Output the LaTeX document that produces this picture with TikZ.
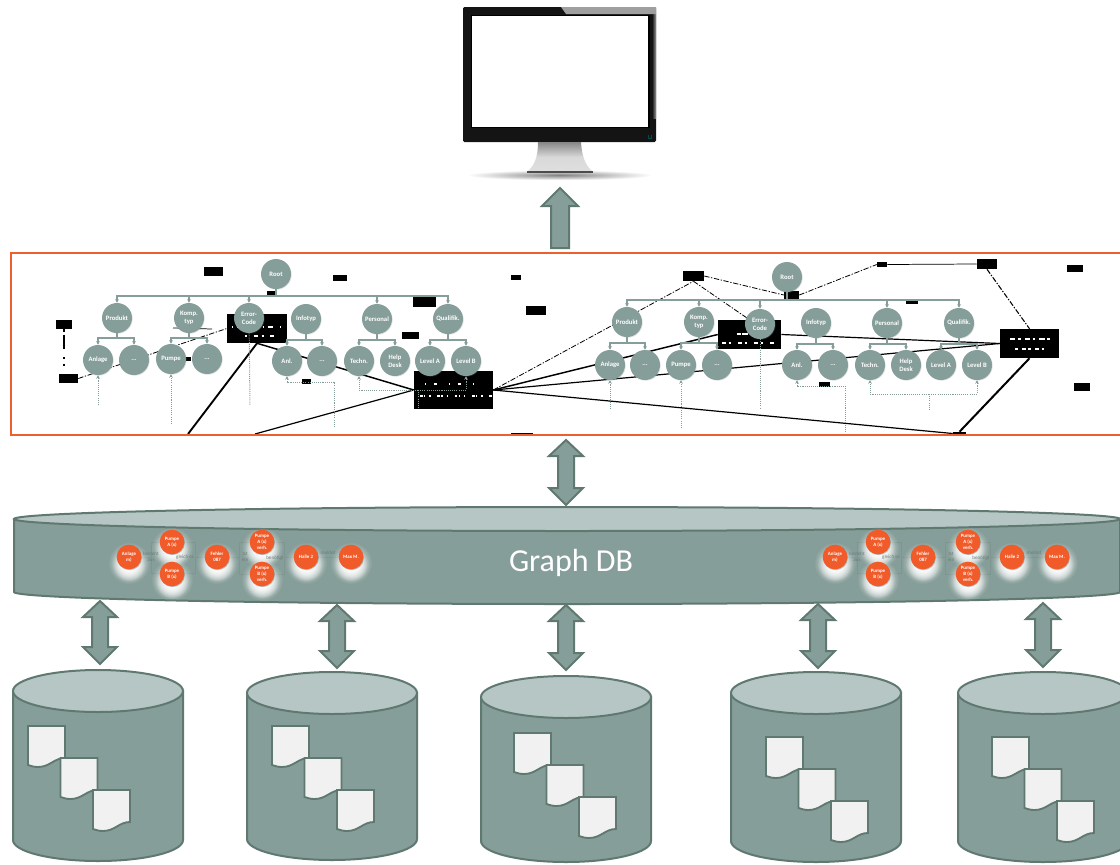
\documentclass[tikz,border=0pt]{standalone}
\usepackage{fontspec}
\setmainfont{Carlito}
\usetikzlibrary{arrows.meta,backgrounds,fadings,shadows}
\definecolor{sage}{HTML}{869E99}
\definecolor{sagelt}{HTML}{B6C6C4}
\definecolor{sagedk}{HTML}{5F7870}
\definecolor{orangefr}{HTML}{EE5F30}
\definecolor{orangeno}{HTML}{F15A29}
\definecolor{paperw}{HTML}{F1F1F1}
\pgfdeclarelayer{boxlayer}
\pgfsetlayers{background,boxlayer,main}
\tikzfading[name=glowfade, inner color=transparent!0, outer color=transparent!100]
\tikzfading[name=floorfade, inner color=transparent!15, outer color=transparent!100]
\tikzset{
  tn/.style={circle,fill=sage,text=white,inner sep=0pt,minimum size=22.5pt,align=center,
    font=\fontsize{5}{5.8}\selectfont\bfseries,
    drop shadow={shadow xshift=0.5pt,shadow yshift=-0.5pt,opacity=.25,fill=gray}},
  bbk/.style={rectangle,fill=black,draw=none,inner sep=0pt},
  treeln/.style={draw=sage,line width=0.8pt},
  treearr/.style={treeln,-{Stealth[length=2.6pt,width=2.8pt]}},
  dotln/.style={draw=sage,line width=0.75pt,dash pattern=on 0.8pt off 0.8pt},
  dotarr/.style={dotln,-{Stealth[length=2.6pt,width=2.8pt]}},
  blkthin/.style={draw=black,line width=0.55pt},
  blkdash/.style={draw=black,line width=0.6pt,dash pattern=on 4pt off 1.2pt on 1pt off 1.2pt},
  blkthick/.style={draw=black,line width=1.1pt},
  garble/.style={draw=white,line width=0.8pt},
  onode/.style={circle,fill=orangeno,text=white,inner sep=0pt,minimum size=18.5pt,align=center,
    font=\fontsize{3.7}{4.4}\selectfont\bfseries,
    drop shadow={shadow xshift=0.4pt,shadow yshift=-0.6pt,opacity=.35,fill=black!70}},
  faintln/.style={draw=sage!94!black,line width=0.3pt},
  fainttx/.style={text=sage!80!black,inner sep=0pt,align=center,font=\fontsize{3.8}{4.2}\selectfont},
  blockarr/.style={fill=sage,draw=sagedk,line width=1.5pt,line join=miter},
  drum/.style={fill=sage,draw=sagedk,line width=1.5pt},
  drumtop/.style={fill=sagelt,draw=sagedk,line width=1.5pt},
  docst/.style={fill=paperw,draw=sagedk,line width=1.4pt},
}
\newcommand{\bbx}[5]{%
  \pgfmathsetmacro\bbw{(#4-#2)*0.75}\pgfmathsetmacro\bbh{(#5-#3)*0.75}%
  \node[bbk,minimum width=\bbw pt,minimum height=\bbh pt] (#1) at ({(#2+#4)/2},{(#3+#5)/2}) {};}
% double block arrow: centre x, top tip, bottom tip
\newcommand{\dblarr}[3]{%
  \draw[blockarr] (#1,#2) -- (#1+17,#2+16) -- (#1+8,#2+16) -- (#1+8,#3-17) -- (#1+17,#3-17)
   -- (#1,#3) -- (#1-17,#3-17) -- (#1-8,#3-17) -- (#1-8,#2+16) -- (#1-17,#2+16) -- cycle;}
% document sheet
\newcommand{\docsheet}[2]{%
  \draw[docst,shift={(#1,#2)}] (0,0) -- (37,0) -- (37,32) .. controls (26,32) and (22,41) .. (10,41)
    .. controls (6,41) and (3,40) .. (0,39) -- cycle;}
% cylinder: centre x, top y, bottom y, doc x, doc y
\newcommand{\drumdocs}[5]{%
  \draw[drum] (#1-85,#2+21) -- (#1-85,#3-21) arc (180:0:85 and 21) -- (#1+85,#2+21) -- cycle;
  \draw[drumtop] (#1,#2+21) ellipse (85 and 21);
  \docsheet{#4}{#5}\docsheet{#4+32.5}{#5+32}\docsheet{#4+65}{#5+64}}
% group of orange nodes
\newcommand{\glowat}[2]{\fill[white,path fading=glowfade] (#1,#2+6) circle (21);
  \fill[white,path fading=glowfade] (#1,#2+7) circle (18);
  \fill[white,path fading=glowfade] (#1,#2+8) circle (16);}
\newcommand{\ogroup}[2]{%
  \draw[faintln] (#2+141,557) -- (#2+151,557) (#2+151,542) rectangle (#2+195,573) (#2+195,557) -- (#2+205,557);
  \draw[faintln] (#2+229,557) -- (#2+239,557) (#2+239,542) rectangle (#2+284,574) (#2+284,557) -- (#2+294,557);
  \draw[faintln] (#2+318,557) -- (#2+339,557);
  \glowat{#2+129}{557}\glowat{#2+172}{542}\glowat{#2+172}{574}\glowat{#2+217}{557}
  \glowat{#2+262}{542}\glowat{#2+262}{574}\glowat{#2+306}{557}\glowat{#2+351}{557}
  \node[fainttx] (#1t1) at (#2+151,557) {besteht\\aus};
  \node[fainttx] (#1t2) at (#2+185,557) {gleich es};
  \node[fainttx] (#1t3) at (#2+245,557) {Ist\\ein};
  \node[fainttx] (#1t4) at (#2+275,558) {benötigt};
  \node[fainttx] (#1t5) at (#2+328,553) {meldet};
  \node[onode] (#1a) at (#2+129,557) {Anlage\\m)};
  \node[onode] (#1b) at (#2+172,542) {Pumpe\\A (x)};
  \node[onode] (#1c) at (#2+172,574) {Pumpe\\B (x)};
  \node[onode] (#1d) at (#2+217,557) {Fehler\\087};
  \node[onode] (#1e) at (#2+262,542) {Pumpe\\A (x)\\verh.};
  \node[onode] (#1f) at (#2+262,574) {Pumpe\\B (x)\\verh.};
  \node[onode] (#1g) at (#2+306,557) {Halle 2};
  \node[onode] (#1h) at (#2+351,557) {Max M.};}
\begin{document}
\begin{tikzpicture}[x=0.75pt,y=-0.75pt]
\useasboundingbox (0,0) rectangle (1120,864);

% ---------- monitor ----------
\fill[black!92,rounded corners=1pt] (463,7) rectangle (656,142);
\shade[left color=black!92,right color=gray!80] (652,14) rectangle (656,118);
\fill[gray!75] (561,7) -- (656,7) -- (656,14) -- (566,14) -- cycle;
\fill[black] (471,15) rectangle (650,128);
\fill[white] (472,16) rectangle (648,127);
\draw[teal!60!black,line width=0.6pt] (648.5,135) -- (648.5,138) -- (651.5,138) -- (651.5,135);
\shade[top color=gray!95,bottom color=gray!25,middle color=gray!30]
  (538,142) .. controls (538,158) and (534,166) .. (527,172) -- (593,172) .. controls (586,166) and (582,158) .. (581,142) -- cycle;
\fill[gray!85!black,path fading=floorfade] (467,170) -- (652,170) -- (652,180) -- (467,180) -- cycle;
\draw[draw=gray!60!black,line width=0.8pt] (527,172) -- (593,172);

% ---------- arrows ----------
\draw[blockarr] (560,188) -- (578,206) -- (569,206) -- (569,248) -- (551,248) -- (551,206) -- (542,206) -- cycle;
\dblarr{566}{440}{505}

% ---------- black boxes of the overlay ----------
\begin{pgfonlayer}{boxlayer}
\bbx{bA}{204}{267}{223}{276}
\bbx{bB}{333}{275}{347}{281}
\bbx{bC}{511}{275}{521}{280}
\bbx{bD}{413}{297}{436}{307}
\bbx{bE}{526}{306}{546}{315}
\bbx{bF}{267}{291}{275}{295}
\bbx{bG}{56}{320}{72}{329}
\bbx{bH}{59}{374}{78}{383}
\bbx{bI}{227}{314}{287}{343}
\bbx{bJ}{402}{332}{419}{339}
\bbx{bK}{185}{357}{191}{361}
\bbx{bL}{302}{379}{311}{384}
\bbx{bM}{414}{371}{493}{409}
\bbx{bN}{511}{433}{533}{435}
\bbx{rA}{683}{271}{704}{281}
\bbx{rB}{784}{291}{799}{299}
\bbx{rC}{877}{262}{887}{267}
\bbx{rD}{977}{259}{997}{269}
\bbx{rE}{1067}{265}{1083}{272}
\bbx{rF}{906}{299}{918}{304}
\bbx{rG}{718}{320}{781}{349}
\bbx{rH}{1000}{329}{1059}{358}
\bbx{rI}{1074}{383}{1090}{391}
\bbx{rJ}{819}{382}{830}{387}
\bbx{rK}{953}{432}{966}{435}
% unreadable white fragments in the big boxes
\draw[garble,dash pattern=on 1pt off 3pt on 4pt off 5pt on 1pt off 9pt] (232,327) -- (285,327);
\draw[garble,dash pattern=on 1.5pt off 5pt on 3pt off 3pt] (245,336) -- (275,336);
\draw[garble,dash pattern=on 1pt off 6pt on 2pt off 9pt] (425,384) -- (480,384);
\draw[garble,dash pattern=on 2pt off 1pt on 1pt off 3pt on 1pt off 5pt] (420,396) -- (492,396);
\draw[garble,line width=1.2pt,dash pattern=on 3pt off 1pt on 4pt off 2pt] (737,334) -- (770,334);
\draw[garble,dash pattern=on 3pt off 2pt on 2pt off 5pt] (722,343) -- (776,343);
\draw[garble,dash pattern=on 4pt off 2pt on 2pt off 3pt] (1010,339) -- (1050,339);
\draw[garble,dash pattern=on 2pt off 3pt on 3pt off 2pt] (1015,349) -- (1045,349);
\end{pgfonlayer}

% ---------- left tree ----------
\node[tn] (lroot) at (276,274) {Root};
\node[tn] (lprod) at (117,318) {Produkt};
\node[tn] (lkomp) at (189,318) {Komp.\\typ};
\node[tn] (lerr)  at (249,318) {Error-\\Code};
\node[tn] (linfo) at (306,319) {Infotyp};
\node[tn] (lpers) at (377,319) {Personal};
\node[tn] (lqual) at (448,319) {Qualifik.};
\node[tn] (lanl)  at (98,360) {Anlage};
\node[tn] (ld1)   at (134,360) {...};
\node[tn] (lpum)  at (171,359) {Pumpe};
\node[tn] (ld2)   at (207,359) {...};
\node[tn] (laus)  at (287,361) {Anl.};
\node[tn] (ld3)   at (322,361) {...};
\node[tn] (ltec)  at (359,361) {Techn.};
\node[tn] (lhelp) at (395,361) {Help\\Desk};
\node[tn] (llva)  at (430,361) {Level A};
\node[tn] (llvb)  at (466,361) {Level B};
\coordinate (lbus) at (276,296);
\draw[treeln] (lroot) -- (lbus);
\foreach \t in {lprod,lkomp,lerr,lpers,lqual} \draw[treearr] (lbus) -| (\t);
\draw[treeln] (lprod) -- (117,338);\draw[treearr] (117,338) -| (lanl);\draw[treearr] (117,338) -| (ld1);
\draw[treeln] (lkomp) -- (189,338);\draw[treearr] (189,338) -| (lpum);\draw[treearr] (189,338) -| (ld2);
\draw[treeln] (linfo) -- (306,340);\draw[treearr] (306,340) -| (laus);\draw[treearr] (306,340) -| (ld3);
\draw[treeln] (lpers) -- (377,340);\draw[treearr] (377,340) -| (ltec);\draw[treearr] (377,340) -| (lhelp);
\draw[treeln] (lqual) -- (448,340);\draw[treearr] (448,340) -| (llva);\draw[treearr] (448,340) -| (llvb);
% dotted feeders, left
\coordinate (lfa) at (98,405);\coordinate (lfb) at (171,424);\coordinate (lfc) at (250,405);
\coordinate (lfd) at (334,427);\coordinate (lfe) at (418,390);\coordinate (lff) at (418,409);
\draw[dotarr] (lfa) -- (lanl);
\draw[dotarr] (lfb) -- (lpum);
\draw[dotln] (lerr) -- (lfc);
\draw[dotarr] (lfd) |- (287,382) -- (laus);
\draw[dotarr] (lfe) -| (ltec);
\draw[dotarr] (lfe) -| (llvb);
\draw[dotln] (lfe) -- (lff);

% ---------- right tree ----------
\node[tn] (rroot) at (787,277) {Root};
\node[tn] (rprod) at (627,322) {Produkt};
\node[tn] (rkomp) at (699,322) {Komp.\\typ};
\node[tn] (rerr)  at (760,324) {Error-\\Code};
\node[tn] (rinfo) at (816,323) {Infotyp};
\node[tn] (rpers) at (887,323) {Personal};
\node[tn] (rqual) at (959,323) {Qualifik.};
\node[tn] (ranl)  at (610,365) {Anlage};
\node[tn] (rd1)   at (645,365) {...};
\node[tn] (rpum)  at (681,365) {Pumpe};
\node[tn] (rd2)   at (717,365) {...};
\node[tn] (raus)  at (797,365) {Anl.};
\node[tn] (rd3)   at (833,365) {...};
\node[tn] (rtec)  at (870,365) {Techn.};
\node[tn] (rhelp) at (906,365) {Help\\Desk};
\node[tn] (rlva)  at (941,365) {Level A};
\node[tn] (rlvb)  at (977,365) {Level B};
\coordinate (rbus) at (787,300);
\draw[treeln] (rroot) -- (rbus);
\foreach \t in {rprod,rkomp,rerr,rpers,rqual} \draw[treearr] (rbus) -| (\t);
\draw[treeln] (rprod) -- (627,343);\draw[treearr] (627,343) -| (ranl);\draw[treearr] (627,343) -| (rd1);
\draw[treeln] (rkomp) -- (699,343);\draw[treearr] (699,343) -| (rpum);\draw[treearr] (699,343) -| (rd2);
\draw[treeln] (rinfo) -- (816,344);\draw[treearr] (816,344) -| (raus);\draw[treearr] (816,344) -| (rd3);
\draw[treeln] (rpers) -- (887,344);\draw[treearr] (887,344) -| (rtec);\draw[treearr] (887,344) -| (rhelp);
\draw[treeln] (rqual) -- (959,344);\draw[treearr] (959,344) -| (rlva);\draw[treearr] (959,344) -| (rlvb);
\coordinate (rfa) at (610,409);\coordinate (rfb) at (681,428);\coordinate (rfc) at (760,409);
\coordinate (rfd) at (845,432);\coordinate (rfe) at (929,394);\coordinate (rff) at (929,409);
\draw[dotarr] (rfa) -- (ranl);
\draw[dotarr] (rfb) -- (rpum);
\draw[dotln] (rerr) -- (rfc);
\draw[dotarr] (rfd) |- (797,386) -- (raus);
\draw[dotarr] (rfe) -| (rtec);
\draw[dotarr] (rfe) -| (rlvb);
\draw[dotln] (rfe) -- (rff);

% ---------- black connectors (behind everything) ----------
\coordinate (freeA) at (188,434);
\coordinate (freeB) at (255,434);
\coordinate (kompA) at (173,328);
\coordinate (kompB) at (212,329);
\begin{scope}[on background layer]
\draw[blkdash] (bH.east) -- (bI.west);
\draw[blkthick,dash pattern=on 2pt off 2pt on 11pt off 6pt on 1.2pt off 4pt on 1.2pt off 7pt on 9pt] (bG.south) -- (bG.south|-bH.north);
\draw[blkthick,line width=1.4pt] (bI.south) -- (freeA);
\draw[blkthick] (bI.south) -- (bM.west);
\draw[blkthick,line width=0.9pt] (bM.west) -- (freeB);
\draw[blkthin] (kompA) -- (kompB);
\draw[blkdash] (bM.east) -- (rA.south);
\draw[blkthick] (bM.east) -- (rG.west);
\draw[blkthick,line width=0.9pt] (bM.east) -- (rH.west);
\draw[blkthick,line width=0.9pt] (bM.east) -- (rK.west);
\draw[blkthick,line width=0.9pt] (rG.east) -- (rH.west);
\draw[blkthick,line width=1.5pt] (rH.south) -- (rK.north);
\draw[blkdash] (rA.east) -- (rB.west);
\draw[blkdash] (rA.south) -- (rG.north);
\draw[blkdash] (rB.east) -- (rC.west);
\draw[blkthin] (rC.east) -- (rD.west);
\draw[blkdash,line width=0.8pt] (rD.south) -- (rH.north);
\end{scope}

% ---------- orange frame ----------
\draw[draw=orangefr,line width=1.9pt] (11,253) -- (11,435) (10,253) -- (1120,253) (10,435) -- (1120,435);

% ---------- Graph DB disc ----------
\draw[drum] (14,519) -- (14,592) arc (180:0:553 and 12) -- (1120,519) -- cycle;
\draw[drumtop] (567,519) ellipse (553 and 12);
\node[text=white,inner sep=0pt,font=\fontsize{24}{28}\selectfont] (gdb) at (571,563) {Graph DB};
\ogroup{oa}{0}
\ogroup{ob}{706}

% ---------- lower arrows and stores ----------
\dblarr{100}{601}{664}
\dblarr{337}{605}{668}
\dblarr{566}{605}{670}
\dblarr{818}{604}{668}
\dblarr{1043}{603}{667}
\drumdocs{98}{670}{861}{28}{726}
\drumdocs{332}{672}{860}{272}{726}
\drumdocs{566}{676}{862}{514}{733}
\drumdocs{816}{672}{862}{766}{737}
\drumdocs{1043}{672}{862}{992}{737}
\end{tikzpicture}
\end{document}
